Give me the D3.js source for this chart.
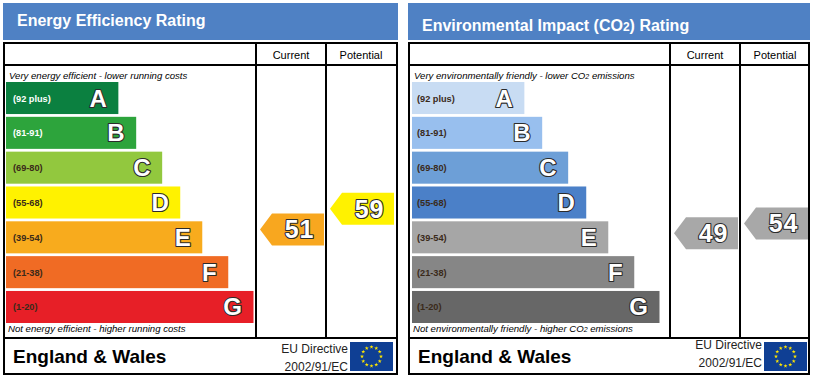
<!DOCTYPE html>
<html><head><meta charset="utf-8">
<style>html,body{margin:0;padding:0;background:#fff}svg{display:block}text{font-family:"Liberation Sans",Arial,sans-serif}</style>
<script src="https://cdn.jsdelivr.net/npm/d3@7/dist/d3.min.js"></script></head><body>
<svg id="c" width="814" height="379"></svg>
<script>
const bandLabels = ["(92 plus)","(81-91)","(69-80)","(55-68)","(39-54)","(21-38)","(1-20)"];
const bandLetters = ["A","B","C","D","E","F","G"];
const barLengths = [45.4,52.6,63.1,70.4,79.3,89.8,100];
const energyColors = ["#0b8040","#2da43c","#92c83e","#fff200","#f8ab1d","#f06b24","#e71f27"];
const co2Colors = ["#c8dcf3","#98bfee","#6d9fd7","#4b80c8","#a6a6a6","#868686","#676767"];
const energyScores = [51,59];
const co2Scores = [49,54];
const columnLabels = ["Current","Potential"];
const arrowDomain = [39,55,69];
const energyArrowColors = ["#f8a71f","#fff200"];
const co2ArrowColors = ["#a8a8a8","#a8a8a8"];
const svg = d3.select("#c");
const y = d3.scaleBand().domain(bandLabels).range([82,323]).paddingInner(0.08).paddingOuter(0);
const len = d3.scaleLinear().domain([0,100]).range([0,247.5]);
const arrowY = d3.scaleLinear().domain(arrowDomain).range([253,221.5,176.5]);

function outlined(sel,size){
  return sel.attr("font-family","'DejaVu Sans',Verdana,sans-serif").attr("font-weight","bold").attr("font-size",size)
    .attr("fill","#fff").attr("stroke","#2b2b2b").attr("stroke-width",2.2).attr("stroke-linejoin","round").attr("paint-order","stroke");
}
function panel(o){
  const g = svg.append("g");
  g.append("rect").attr("x",o.x).attr("y",3).attr("width",o.w).attr("height",37).attr("fill","#4f81c4");
  const t = g.append("text").attr("x",o.titleX).attr("y",o.titleY).attr("fill","#fff").attr("font-weight","bold");
  o.title.forEach(p=>t.append("tspan").attr("font-size",p[1]).text(p[0]));
  g.append("rect").attr("x",o.x+1).attr("y",43).attr("width",o.w-2).attr("height",331).attr("fill","#fff").attr("stroke","#000").attr("stroke-width",2);
  [65,338].forEach(v=>g.append("line").attr("x1",o.x+1).attr("x2",o.x+o.w-1).attr("y1",v).attr("y2",v).attr("stroke","#000").attr("stroke-width",2));
  o.cols.forEach((cx,i)=>{
    g.append("line").attr("x1",cx).attr("x2",cx).attr("y1",43).attr("y2",338).attr("stroke","#000").attr("stroke-width",2);
    g.append("text").attr("x",cx+35).attr("y",59).attr("text-anchor","middle").attr("font-size",11).text(columnLabels[i]);
  });
  g.append("text").attr("x",o.noteX).attr("y",79).attr("font-style","italic").selectAll("tspan").data(o.top).join("tspan").attr("font-size",d=>d[1]).text(d=>d[0]);
  g.append("text").attr("x",o.noteX-1).attr("y",332).attr("font-style","italic").selectAll("tspan").data(o.bottom).join("tspan").attr("font-size",d=>d[1]).text(d=>d[0]);
  const bars = g.selectAll("g.bar").data(bandLabels).join("g").attr("class","bar");
  bars.append("rect").attr("x",o.barX).attr("y",d=>y(d)).attr("height",y.bandwidth()).attr("width",(d,i)=>len(barLengths[i])).attr("fill",(d,i)=>o.colors[i]);
  bars.append("text").attr("x",o.barX+o.labelGap).attr("y",d=>y(d)+y.bandwidth()/2+3.5).attr("font-size",9.2).attr("font-weight","bold").attr("fill",(d,i)=>i<2&&o.lightTop?"#fff":"#3a2a1a").text(d=>d);
  outlined(bars.append("text").attr("x",(d,i)=>o.barX+len(barLengths[i])-11.5).attr("y",d=>y(d)+y.bandwidth()/2+8.5).attr("text-anchor","end"),24).text((d,i)=>bandLetters[i]);
  o.scores.forEach((s,i)=>{
    const x0=o.cols[i]+4, x1=x0+64, cy=arrowY(s), h=16, n=12;
    const a = g.append("g");
    a.append("path").attr("d",d3.line()([[x0,cy],[x0+n,cy-h],[x1,cy-h],[x1,cy+h],[x0+n,cy+h]])+"Z").attr("fill",o.arrowColors[i]);
    outlined(a.append("text").attr("x",x1-9.5).attr("y",cy+9).attr("text-anchor","end").attr("letter-spacing",1),25).text(s);
  });
  g.append("text").attr("x",o.x+10).attr("y",363).attr("font-size",19).attr("font-weight","bold").text("England & Wales");
  o.eu.forEach((l,i)=>g.append("text").attr("x",o.euX-2).attr("y",o.euY+i*18).attr("text-anchor","end").attr("font-size",12).attr("fill","#222").text(l));
  const fx=o.euX, fw=43, fh=29, fy=342;
  g.append("rect").attr("x",fx).attr("y",fy).attr("width",fw).attr("height",fh).attr("fill","#0f3f94");
  const star=d3.symbol().type(d3.symbolStar).size(5);
  g.selectAll("path.star").data(d3.range(12)).join("path").attr("class","star").attr("d",star).attr("fill","#ffe600")
    .attr("transform",d=>`translate(${fx+fw/2+9.5*Math.sin(d*Math.PI/6)},${fy+fh/2-9.5*Math.cos(d*Math.PI/6)})`);
}
panel({x:3,w:395,titleX:17,titleY:26,title:[["Energy Efficiency Rating",16]],cols:[256,326],noteX:9,labelGap:7,
  top:[["Very energy efficient - lower running costs",9.6]],bottom:[["Not energy efficient - higher running costs",9.6]],
  barX:6,colors:energyColors,lightTop:true,scores:energyScores,arrowColors:energyArrowColors,eu:["EU Directive","2002/91/EC"],euX:350,euY:353});
panel({x:408,w:402,titleX:422,titleY:31,title:[["Environmental Impact (CO",16],["2",12],[") Rating",16]],cols:[670,740],noteX:414,labelGap:5,
  top:[["Very environmentally friendly - lower CO",9.6],["2",7],[" emissions",9.6]],bottom:[["Not environmentally friendly - higher CO",9.6],["2",7],[" emissions",9.6]],
  barX:412,colors:co2Colors,lightTop:false,scores:co2Scores,arrowColors:co2ArrowColors,eu:["EU Directive","2002/91/EC"],euX:764,euY:349});
</script></body></html>
